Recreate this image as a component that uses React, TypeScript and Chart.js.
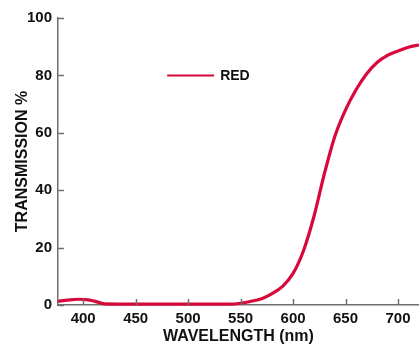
import React, { useEffect, useRef } from "react";
import { Chart, registerables } from "chart.js";

Chart.register(...registerables);

const wavelengths = [376, 385, 395, 405, 415, 420, 450, 500, 540, 550, 560, 570, 580, 590, 600, 610, 620, 630, 640, 650, 660, 670, 680, 690, 700, 710, 720];
const transmission = [1.3, 1.7, 2.0, 1.8, 0.9, 0.4, 0.3, 0.3, 0.3, 0.6, 1.3, 2.2, 4.0, 6.5, 11, 19, 31, 46, 59, 68, 75, 80.5, 84.5, 87, 88.5, 89.8, 90.6];
const xTicks = [400, 450, 500, 550, 600, 650, 700];
const yTicks = [0, 20, 40, 60, 80, 100];
const seriesLabel = "RED";
const xTitle = "WAVELENGTH (nm)";
const yTitle = "TRANSMISSION %";

const RED = "#d9083a";
const AXIS = "#6f6f6f";
const FONT = "'Liberation Sans', Arial, sans-serif";

export default function App() {
  const ref = useRef<HTMLCanvasElement | null>(null);
  useEffect(() => {
    const canvas = ref.current!;
    const innerTicks = {
      id: "innerTicks",
      afterDraw(chart: any) {
        const ctx = chart.ctx;
        const { x, y } = chart.scales;
        const area = chart.chartArea;
        ctx.save();
        ctx.strokeStyle = AXIS;
        ctx.lineWidth = 1.5;
        ctx.beginPath();
        for (const v of xTicks) {
          const px = Math.round(x.getPixelForValue(v)) + 0.5;
          ctx.moveTo(px, area.bottom);
          ctx.lineTo(px, area.bottom - 6);
        }
        for (const v of yTicks) {
          const py = Math.round(y.getPixelForValue(v)) + 0.5;
          ctx.moveTo(area.left, py);
          ctx.lineTo(area.left + 6, py);
        }
        ctx.stroke();
        // legend
        const lx = x.getPixelForValue(480);
        const ly = y.getPixelForValue(80);
        ctx.strokeStyle = RED;
        ctx.lineWidth = 2;
        ctx.beginPath();
        ctx.moveTo(lx, ly);
        ctx.lineTo(lx + 47, ly);
        ctx.stroke();
        ctx.fillStyle = "#111";
        ctx.font = `bold 14px ${FONT}`;
        ctx.textBaseline = "middle";
        ctx.textAlign = "left";
        ctx.fillText(seriesLabel, lx + 53, ly + 1);
        ctx.restore();
      },
    };
    const chart = new Chart(canvas, {
      type: "line",
      data: {
        datasets: [
          {
            label: seriesLabel,
            data: wavelengths.map((w, i) => ({ x: w, y: transmission[i] })),
            borderColor: RED,
            borderWidth: 3.2,
            pointRadius: 0,
            cubicInterpolationMode: "monotone",
            fill: false,
          },
        ],
      },
      options: {
        responsive: false,
        animation: false,
        clip: false as any,
        layout: { padding: { top: 18, right: 0, left: 0, bottom: 0 } },
        plugins: { legend: { display: false }, tooltip: { enabled: false } },
        scales: {
          x: {
            type: "linear",
            min: 376,
            max: 720,
            afterBuildTicks: (s: any) => {
              s.ticks = xTicks.map((v) => ({ value: v }));
            },
            afterFit: (s: any) => {
              s.height = 41;
            },
            grid: { display: false, drawTicks: false, tickLength: 0 },
            border: { display: true, color: AXIS, width: 1.5 },
            ticks: {
              color: "#111",
              font: { family: FONT, weight: "bold", size: 15 },
              padding: 5,
              maxRotation: 0,
            },
            title: {
              display: true,
              text: xTitle,
              color: "#111",
              font: { family: FONT, weight: "bold", size: 16 },
              padding: { top: 0, bottom: 0 },
            },
          },
          y: {
            min: 0,
            max: 100,
            afterBuildTicks: (s: any) => {
              s.ticks = yTicks.map((v) => ({ value: v }));
            },
            afterFit: (s: any) => {
              s.width = 58;
            },
            grid: { display: false, drawTicks: false, tickLength: 0 },
            border: { display: true, color: AXIS, width: 1.5 },
            ticks: {
              color: "#111",
              font: { family: FONT, weight: "bold", size: 15 },
              padding: 6,
            },
            title: {
              display: true,
              text: yTitle,
              color: "#111",
              font: { family: FONT, weight: "bold", size: 16 },
              padding: { top: 13, bottom: 0 },
            },
          },
        },
      },
      plugins: [innerTicks],
    });
    return () => chart.destroy();
  }, []);
  return (
    <div style={{ position: "fixed", left: 0, top: 0, width: 419, height: 346, background: "#fff" }}>
      <canvas ref={ref} width={419} height={346} style={{ display: "block" }} />
    </div>
  );
}
